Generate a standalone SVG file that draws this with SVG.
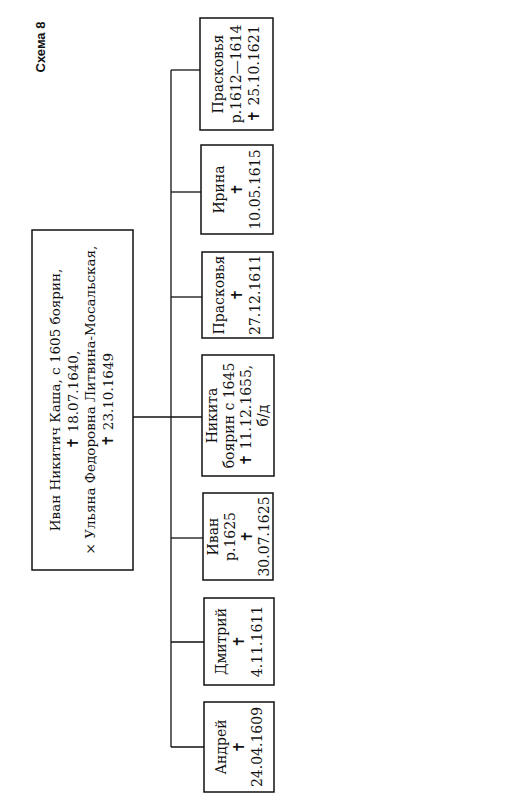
<svg xmlns="http://www.w3.org/2000/svg" width="529" height="800" viewBox="0 0 529 800">
<style>
.box{fill:#fff;stroke:#111;stroke-width:1.5}
.ln{fill:none;stroke:#111;stroke-width:1.3}
text{font-family:"DejaVu Serif","Liberation Serif",serif;font-size:14px;fill:#111;text-anchor:middle}
.m text{font-size:13.5px}
.cr{font-family:"DejaVu Sans",sans-serif;font-size:15px}
.title{font-family:"Liberation Sans",Arial,sans-serif;font-weight:bold;font-size:13px}
</style>
<rect width="529" height="800" fill="#fff"/>
<text class="title" transform="translate(40,47) rotate(-90)" y="4.5">Схема 8</text>
<g id="connectors">
<line class="ln" x1="133" y1="417" x2="202" y2="417"/>
<line class="ln" x1="171" y1="70" x2="171" y2="747"/>
<line class="ln" x1="171" y1="70" x2="200" y2="70"/>
<line class="ln" x1="171" y1="192" x2="201" y2="192"/>
<line class="ln" x1="171" y1="297" x2="202" y2="297"/>
<line class="ln" x1="171" y1="538" x2="203" y2="538"/>
<line class="ln" x1="171" y1="642" x2="204" y2="642"/>
<line class="ln" x1="171" y1="747" x2="204" y2="747"/>
</g>
<g id="main">
<rect class="box" x="32" y="230" width="101" height="340"/>
<g class="m" transform="translate(82,400) rotate(-90)">
<text y="-22">Иван Никитич Каша, с 1605 боярин,</text>
<text y="-4.3"><tspan class="cr">✝</tspan> 18.07.1640,</text>
<text y="13.4">× Ульяна Федоровна Литвина-Мосальская,</text>
<text y="31"><tspan class="cr">✝</tspan> 23.10.1649</text>
</g>
</g>
<g id="praskovya1">
<rect class="box" x="200" y="18" width="73" height="112"/>
<g transform="translate(236.5,74) rotate(-90)">
<text y="-13.5">Прасковья</text>
<text y="4.5">р.1612—1614</text>
<text y="22.5"><tspan class="cr">✝</tspan> 25.10.1621</text>
</g>
</g>
<g id="irina">
<rect class="box" x="201" y="145" width="72" height="89"/>
<g transform="translate(237,189.5) rotate(-90)">
<text y="-13.5">Ирина</text>
<text y="4.5" class="cr">✝</text>
<text y="22.5">10.05.1615</text>
</g>
</g>
<g id="praskovya2">
<rect class="box" x="202" y="252" width="71" height="86"/>
<g transform="translate(237.5,295) rotate(-90)">
<text y="-13.5">Прасковья</text>
<text y="4.5" class="cr">✝</text>
<text y="22.5">27.12.1611</text>
</g>
</g>
<g id="nikita">
<rect class="box" x="202" y="355" width="72" height="121"/>
<g transform="translate(238,415.5) rotate(-90)">
<text y="-21">Никита</text>
<text y="-4">боярин с 1645</text>
<text y="13"><tspan class="cr">✝</tspan> 11.12.1655,</text>
<text y="30">б/д</text>
</g>
</g>
<g id="ivan">
<rect class="box" x="203" y="493" width="70" height="87"/>
<g transform="translate(239,536.5) rotate(-90)">
<text y="-21">Иван</text>
<text y="-4">р.1625</text>
<text y="13" class="cr">✝</text>
<text y="30">30.07.1625</text>
</g>
</g>
<g id="dmitry">
<rect class="box" x="204" y="598" width="70" height="87"/>
<g transform="translate(239,641.5) rotate(-90)">
<text y="-13.5">Дмитрий</text>
<text y="4.5" class="cr">✝</text>
<text y="22.5">4.11.1611</text>
</g>
</g>
<g id="andrey">
<rect class="box" x="204" y="702" width="70" height="90"/>
<g transform="translate(239,747) rotate(-90)">
<text y="-13.5">Андрей</text>
<text y="4.5" class="cr">✝</text>
<text y="22.5">24.04.1609</text>
</g>
</g>
</svg>
